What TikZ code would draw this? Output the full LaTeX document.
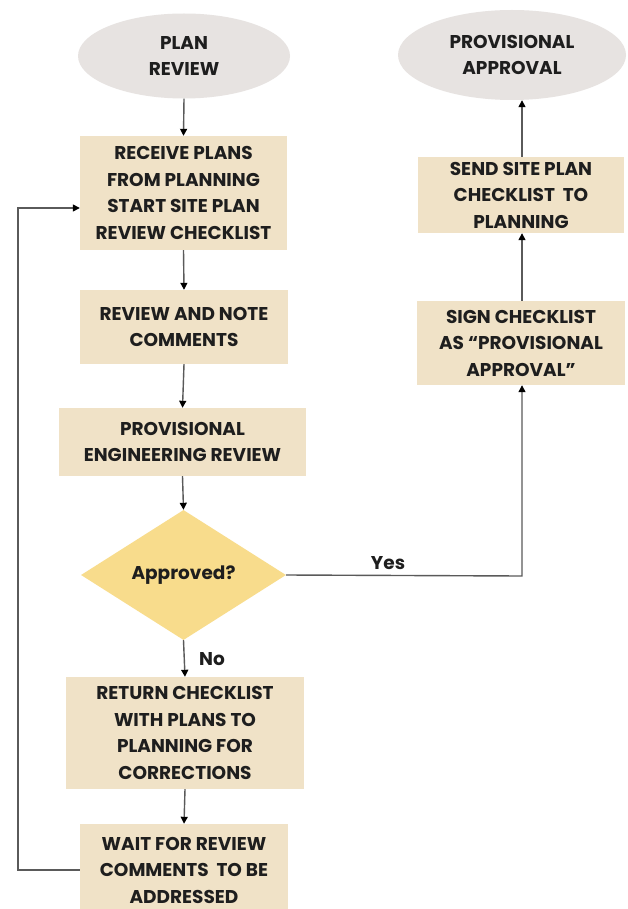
\documentclass[tikz,border=0pt]{standalone}
\usepackage{fontspec}
\setmainfont{Poppins}[BoldFont={* Bold}]
\usetikzlibrary{shapes.geometric,arrows.meta}
\definecolor{boxfill}{HTML}{F0E2C7}
\definecolor{ellfill}{HTML}{E7E3E1}
\definecolor{diafill}{HTML}{F8DC8C}
\definecolor{linec}{HTML}{5A5A5A}
\definecolor{txt}{HTML}{1E1E1E}
\tikzset{
  every node/.style={font=\fontsize{18.5}{26.5}\selectfont\bfseries, text=txt, align=center},
  stepbox/.style={rectangle, fill=boxfill, inner sep=0pt},
  terminal/.style={ellipse, fill=ellfill, inner sep=0pt},
  decision/.style={diamond, fill=diafill, inner sep=0pt, aspect=1.58},
  conn/.style={draw=linec, line width=1.4pt, -{Triangle[length=7pt,width=7pt,color=black]}},
  lbl/.style={font=\fontsize{18.5}{22}\selectfont\bfseries}
}
\begin{document}
\begin{tikzpicture}[x=1pt,y=-1pt]
\useasboundingbox (0,0) rectangle (627,909);
\fill[white] (0,0) rectangle (627,909);
\node[terminal, minimum width=212pt, minimum height=85pt] (pr) at (184,56) {PLAN\\REVIEW};
\node[stepbox, minimum width=207pt, minimum height=114pt] (recv) at (183.5,193) {RECEIVE PLANS\\FROM PLANNING\\START SITE PLAN\\REVIEW CHECKLIST};
\node[stepbox, minimum width=208pt, minimum height=74pt] (rev) at (184,327) {REVIEW AND NOTE\\COMMENTS};
\node[stepbox, minimum width=247pt, minimum height=68pt] (eng) at (182.5,442) {PROVISIONAL\\ENGINEERING REVIEW};
\node[decision, minimum width=205pt, minimum height=130pt] (dec) at (183.5,575) {Approved?};
\node[stepbox, minimum width=238pt, minimum height=112pt] (ret) at (185,733) {RETURN CHECKLIST\\WITH PLANS TO\\PLANNING FOR\\CORRECTIONS};
\node[stepbox, minimum width=208pt, minimum height=92pt] (wait) at (184,870) {WAIT FOR REVIEW\\COMMENTS\ \ TO BE\\ADDRESSED};
\node[terminal, minimum width=228pt, minimum height=90pt] (pa) at (512,55) {PROVISIONAL\\APPROVAL};
\node[stepbox, minimum width=206pt, minimum height=76pt] (send) at (521,195) {SEND SITE PLAN\\CHECKLIST\ \ TO\\PLANNING};
\node[stepbox, minimum width=208pt, minimum height=84pt] (sign) at (521,343) {SIGN CHECKLIST\\AS “PROVISIONAL\\APPROVAL”};
\coordinate (loopL) at (18,870);
\coordinate (loopT) at (18,208);
\coordinate (recvIn) at (recv.west |- loopT);
\coordinate (yesC) at (522,576);
\draw[conn] (pr.south) -- (recv.north);
\draw[conn] (recv.south) -- (rev.north);
\draw[conn] (rev.south) -- (eng.north);
\draw[conn] (eng.south) -- (dec.north);
\draw[conn] (dec.south) -- (ret.north);
\draw[conn] (ret.south) -- (wait.north);
\draw[conn] (wait.west |- loopL) -- (loopL) -- (loopT) -- (recvIn);
\draw[conn] (dec.east) -- (yesC) -- (yesC |- sign.south);
\draw[conn] (sign.north -| yesC) -- (send.south -| yesC);
\draw[conn] (send.north -| yesC) -- (pa.south -| yesC);
\node[lbl] (yes) at (388,563) {Yes};
\node[lbl] (no) at (212,659) {No};
\end{tikzpicture}
\end{document}
